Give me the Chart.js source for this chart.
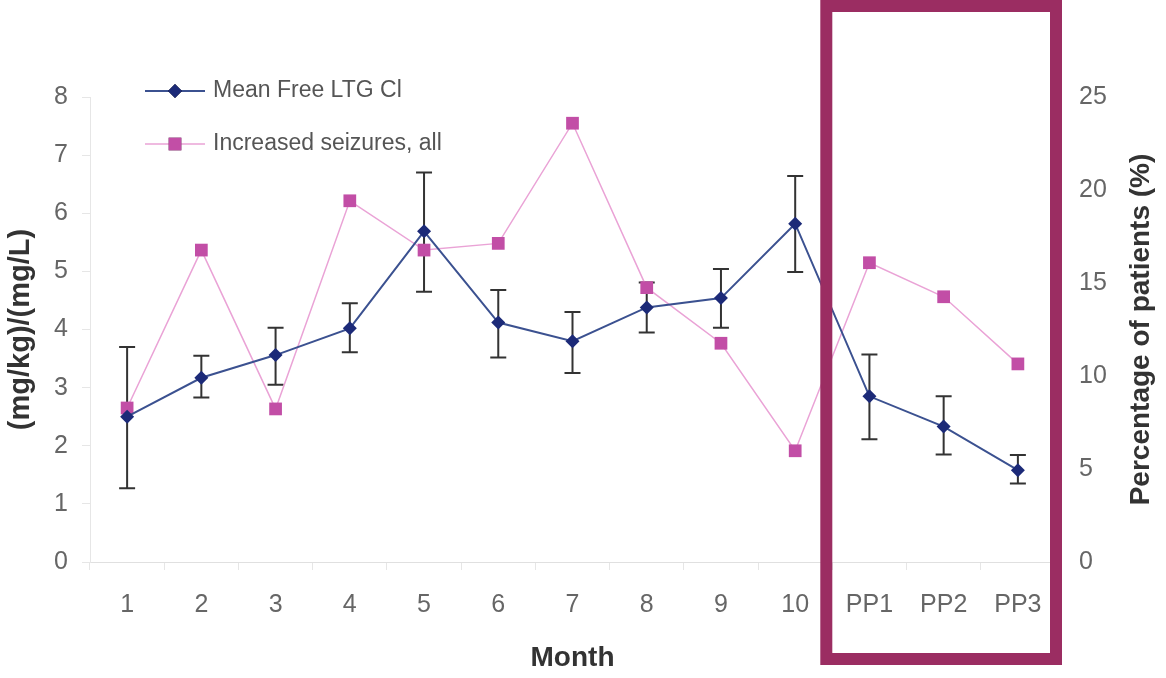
<!DOCTYPE html>
<html>
  <head>
    <meta charset="utf-8">
    <style>
      html, body { margin: 0; padding: 0; background: #fff; }
      #wrap { width: 1166px; height: 678px; }
    </style>
  </head>
  <body>
    <div id="wrap">
      <canvas id="myChart" width="1166" height="678"></canvas>
    </div>

    <script src="https://cdn.jsdelivr.net/npm/chart.js"></script>

    <script>
      "use strict";

      // values
      const months = ['1', '2', '3', '4', '5', '6', '7', '8', '9', '10', 'PP1', 'PP2', 'PP3'];
      const meanFreeLtg = [2.50, 3.17, 3.56, 4.02, 5.69, 4.12, 3.80, 4.38, 4.54, 5.82, 2.85, 2.33, 1.58];
      const ltgHigh = [3.70, 3.55, 4.03, 4.45, 6.70, 4.68, 4.30, 4.81, 5.04, 6.64, 3.57, 2.85, 1.84];
      const ltgLow = [1.27, 2.83, 3.05, 3.61, 4.65, 3.52, 3.25, 3.95, 4.03, 4.99, 2.11, 1.85, 1.35];
      const seizures = [8.28, 16.77, 8.23, 19.42, 16.77, 17.13, 23.59, 14.75, 11.76, 5.98, 16.09, 14.26, 10.65];
      const rightTitle = 'Percentage of patients (%)';

      const FONT = "'Liberation Sans', Arial, sans-serif";
      const blueLine = '#3b5190';
      const blueMark = '#1c2a78';
      const pinkLine = '#eaa3d6';
      const pinkMark = '#c24ea6';

      const errorBars = {
          id: 'errorBars',
          beforeDatasetsDraw(chart) {
              const ctx = chart.ctx;
              const x = chart.scales.x;
              const y = chart.scales.y;
              ctx.save();
              ctx.strokeStyle = '#333';
              ctx.lineWidth = 2;
              for (let i = 0; i < months.length; i++) {
                  const px = x.getPixelForValue(i);
                  const top = y.getPixelForValue(ltgHigh[i]);
                  const bot = y.getPixelForValue(ltgLow[i]);
                  ctx.beginPath();
                  ctx.moveTo(px, top); ctx.lineTo(px, bot);
                  ctx.moveTo(px - 8, top); ctx.lineTo(px + 8, top);
                  ctx.moveTo(px - 8, bot); ctx.lineTo(px + 8, bot);
                  ctx.stroke();
              }
              ctx.restore();
          }
      };

      // legend drawn inside the plot, top left, line sample with marker
      const innerLegend = {
          id: 'innerLegend',
          afterDraw(chart) {
              const ctx = chart.ctx;
              const x0 = chart.chartArea.left + 55;
              const rows = [91, 144];
              ctx.save();
              chart.data.datasets.forEach((ds, i) => {
                  const yy = rows[i];
                  ctx.strokeStyle = ds.borderColor;
                  ctx.lineWidth = ds.borderWidth;
                  ctx.beginPath();
                  ctx.moveTo(x0, yy); ctx.lineTo(x0 + 60, yy);
                  ctx.stroke();
                  Chart.helpers.drawPoint(ctx, {
                      pointStyle: ds.pointStyle,
                      radius: ds.pointRadius,
                      borderWidth: 0
                  }, x0 + 30, yy);
                  ctx.fillStyle = ds.pointBackgroundColor;
                  ctx.fill();
                  ctx.fillStyle = '#555';
                  ctx.font = '23px ' + FONT;
                  ctx.textBaseline = 'middle';
                  ctx.fillText(ds.label, x0 + 68, yy);
              });
              ctx.restore();
          }
      };

      // right axis title reads bottom to top, like the left one
      const rightAxisTitle = {
          id: 'rightAxisTitle',
          afterDraw(chart) {
              const ctx = chart.ctx;
              const a = chart.chartArea;
              ctx.save();
              ctx.translate(1141, (a.top + a.bottom) / 2);
              ctx.rotate(-Math.PI / 2);
              ctx.fillStyle = '#333';
              ctx.font = 'bold 28px ' + FONT;
              ctx.textAlign = 'center';
              ctx.textBaseline = 'middle';
              ctx.fillText(rightTitle, 0, 0);
              ctx.restore();
          }
      };

      // the highlight frame round the post-partum months
      const ppFrame = {
          id: 'ppFrame',
          afterDraw(chart) {
              const ctx = chart.ctx;
              const x = chart.scales.x;
              const left = (x.getPixelForValue(9) + x.getPixelForValue(10)) / 2 - 6;
              const right = chart.chartArea.right + 1;
              ctx.save();
              ctx.strokeStyle = '#9b2d62';
              ctx.lineWidth = 12;
              ctx.strokeRect(left, 6, right - left, 653);
              ctx.restore();
          }
      };

      const ctx = document.getElementById('myChart').getContext('2d');
      const chart = new Chart(ctx, {
          type: 'line',
          data: {
              labels: months,
              datasets: [{
                  label: 'Mean Free LTG Cl',
                  data: meanFreeLtg,
                  yAxisID: 'y',
                  borderColor: blueLine,
                  borderWidth: 2,
                  pointStyle: 'rectRot',
                  pointRadius: 7,
                  pointBackgroundColor: blueMark,
                  pointBorderWidth: 0,
                  order: 0
              }, {
                  label: 'Increased seizures, all',
                  data: seizures,
                  yAxisID: 'y1',
                  borderColor: pinkLine,
                  borderWidth: 1.5,
                  pointStyle: 'rect',
                  pointRadius: 9,
                  pointBackgroundColor: pinkMark,
                  pointBorderWidth: 0,
                  order: 1
              }]
          },
          options: {
              responsive: false,
              animation: false,
              layout: { padding: { top: 97 } },
              plugins: {
                  legend: { display: false },
                  tooltip: { enabled: false }
              },
              scales: {
                  x: {
                      offset: true,
                      grid: { offset: true, drawOnChartArea: false, color: '#e6e6e6', tickLength: 8 },
                      border: { color: '#e0e0e0' },
                      ticks: { color: '#666', font: { family: FONT, size: 25 }, padding: 20 },
                      title: {
                          display: true, text: 'Month', color: '#333',
                          font: { family: FONT, size: 28, weight: 'bold' },
                          padding: { top: 0, bottom: 3 }
                      },
                      afterFit(s) { s.height = 116; }
                  },
                  y: {
                      position: 'left',
                      min: 0, max: 8,
                      ticks: { stepSize: 1, color: '#666', font: { family: FONT, size: 25 }, padding: 14 },
                      grid: { drawOnChartArea: false, color: '#e6e6e6', tickLength: 8 },
                      border: { color: '#e6e6e6' },
                      title: {
                          display: true, text: '(mg/kg)/(mg/L)', color: '#333',
                          font: { family: FONT, size: 29, weight: 'bold' },
                          padding: { top: 4, bottom: 0 }
                      },
                      afterFit(s) { s.width = 90; }
                  },
                  y1: {
                      position: 'right',
                      min: 0, max: 25,
                      ticks: { stepSize: 5, color: '#666', font: { family: FONT, size: 25 }, padding: 16 },
                      grid: { display: false },
                      border: { display: false },
                      title: { display: false },
                      afterFit(s) { s.width = 111; }
                  }
              }
          },
          plugins: [errorBars, innerLegend, rightAxisTitle, ppFrame]
      });
    </script>
  </body>
</html>
